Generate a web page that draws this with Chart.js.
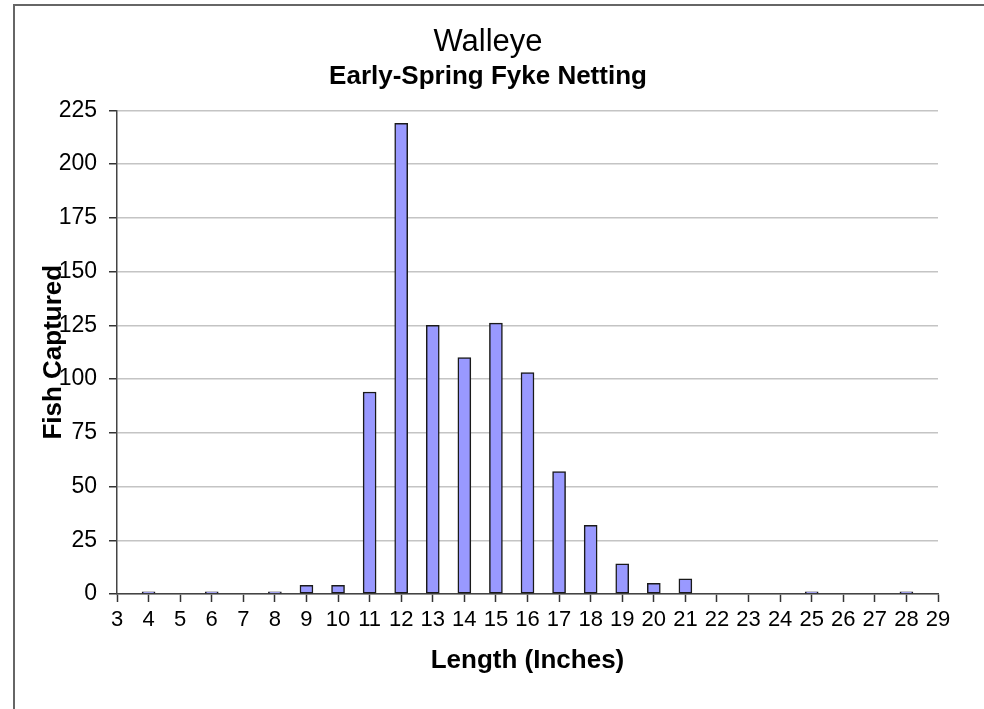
<!DOCTYPE html>
<html>
<head>
<meta charset="utf-8">
<script src="https://cdn.jsdelivr.net/npm/chart.js@4/dist/chart.umd.min.js"></script>
<style>
  body { margin: 0; background: #fff; }
  #wrap { position: relative; width: 984px; height: 709px; overflow: hidden; }
  #frame { position: absolute; left: 13px; top: 4px; width: 1000px; height: 800px;
           border: 2px solid #666; box-sizing: border-box; }
  #chart { position: absolute; left: 0; top: 0; }
</style>
</head>
<body>
<div id="wrap">
  <div id="frame"></div>
  <canvas id="chart" width="984" height="709"></canvas>
</div>
<script>
// length classes in inches (axis runs 3 to 29)
var lengths = ["3", "4", "5", "6", "7", "8", "9", "10", "11", "12", "13", "14", "15", "16",
               "17", "18", "19", "20", "21", "22", "23", "24", "25", "26", "27", "28", "29"];
// number of walleye caught in each length class
var fishCount = [null, 1, null, 1, null, 1, 4, 4, 94, 219, 125, 110, 126, 103,
                 57, 32, 14, 5, 7, null, null, null, 1, null, null, 1, null];
var yTicks = { min: 0, max: 225, step: 25 };

var fontName = "'Liberation Sans', Arial, sans-serif";

var ctx = document.getElementById("chart").getContext("2d");
var chart = new Chart(ctx, {
    type: "bar",
    data: {
        labels: lengths,
        datasets: [{
            label: "Fish Captured",
            data: fishCount,
            backgroundColor: "#9999ff",
            borderColor: "#1a1a1a",
            borderWidth: 1.5,
            borderSkipped: false,
            barThickness: 13
        }]
    },
    options: {
        responsive: false,
        animation: false,
        layout: { padding: { top: 5, left: 38, right: 46, bottom: 0 } },
        plugins: {
            legend: { display: false },
            tooltip: { enabled: false },
            title: {
                display: true,
                text: "Walleye",
                color: "#000",
                font: { family: fontName, size: 31, weight: "normal" },
                padding: { top: 19, bottom: 0 }
            },
            subtitle: {
                display: true,
                text: "Early-Spring Fyke Netting",
                color: "#000",
                font: { family: fontName, size: 26, weight: "bold" },
                padding: { top: 0, bottom: 18 }
            }
        },
        scales: {
            x: {
                offset: false,
                grid: { offset: false, drawOnChartArea: false, drawTicks: true, tickLength: 8, tickColor: "#333", tickWidth: 1.5 },
                border: { color: "#444", width: 1.5 },
                ticks: {
                    autoSkip: false, maxRotation: 0, padding: 5,
                    color: "#000",
                    font: { family: fontName, size: 22 }
                },
                title: {
                    display: true,
                    text: "Length (Inches)",
                    color: "#000",
                    font: { family: fontName, size: 26, weight: "bold" },
                    padding: { top: 0, bottom: 33 }
                },
                afterFit: function (scale) { scale.height = 115; }
            },
            y: {
                min: yTicks.min,
                max: yTicks.max,
                grid: { color: "#c4c4c4", lineWidth: 1.5, tickLength: 8, tickColor: "#333", tickWidth: 1.5 },
                border: { color: "#444", width: 1.5 },
                ticks: {
                    stepSize: yTicks.step,
                    padding: 12,
                    color: "#000",
                    font: { family: fontName, size: 23 }
                },
                title: {
                    display: true,
                    text: "Fish Captured",
                    color: "#000",
                    font: { family: fontName, size: 26, weight: "bold" },
                    padding: 0
                },
                afterFit: function (scale) { scale.width = 79; }
            }
        }
    }
});
</script>
</body>
</html>
